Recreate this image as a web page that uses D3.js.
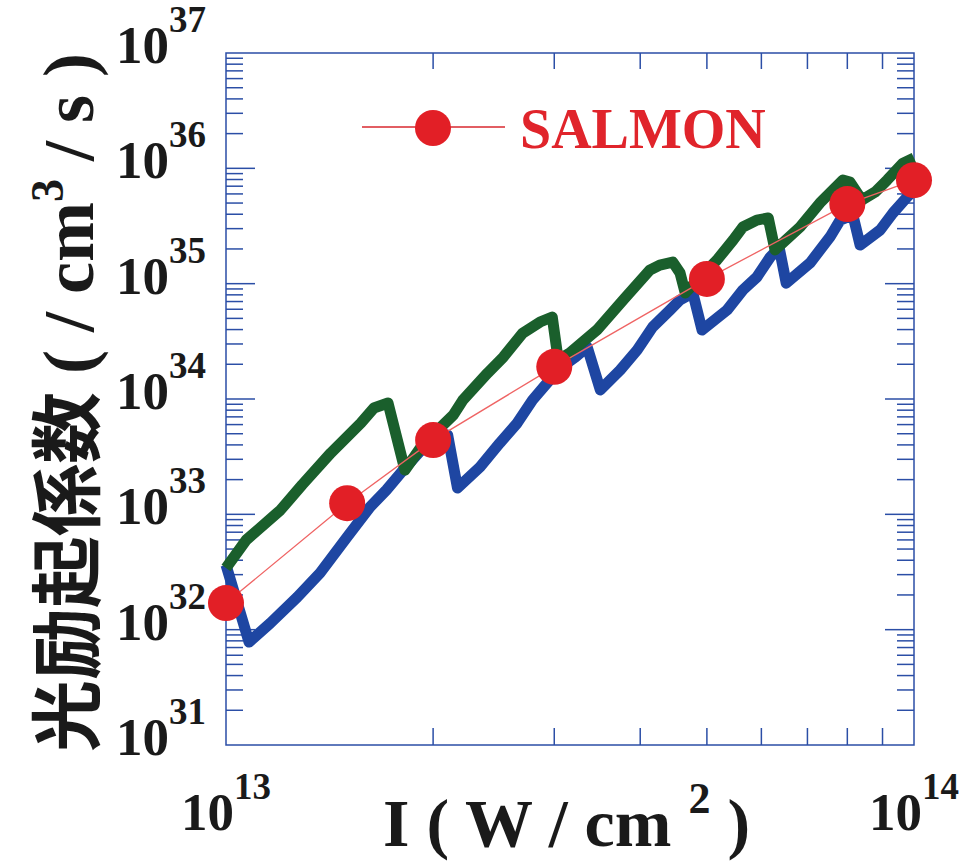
<!DOCTYPE html>
<html><head><meta charset="utf-8">
<script src="https://cdn.jsdelivr.net/npm/d3@7"></script>
<style>body{margin:0;background:#fff}text{white-space:pre}</style>
</head><body><svg id="c" width="980" height="862"></svg>
<script>
// ---- data ----
const greenX = [1.00e13,1.07e13,1.20e13,1.29e13,1.42e13,1.57e13,1.64e13,1.72e13,1.82e13,1.93e13,2.14e13,2.21e13,2.40e13,2.53e13,2.70e13,2.86e13,2.98e13,3.04e13,3.16e13,3.46e13,3.78e13,4.13e13,4.27e13,4.46e13,4.57e13,4.65e13,4.89e13,5.17e13,5.46e13,5.64e13,5.91e13,6.14e13,6.28e13,6.83e13,7.30e13,7.88e13,8.07e13,8.40e13,8.78e13,9.14e13,9.64e13,1.00e14];
const greenY = [3.42e32,5.99e32,1.09e33,1.80e33,3.40e33,6.19e33,8.35e33,9.23e33,2.42e33,3.99e33,7.26e33,9.80e33,1.68e34,2.31e34,3.73e34,4.65e34,5.14e34,2.18e34,2.51e34,3.96e34,7.22e34,1.31e35,1.45e35,1.54e35,1.24e35,8.30e34,1.14e35,1.60e35,2.39e35,3.10e35,3.56e35,3.71e35,1.96e35,3.10e35,5.01e35,7.92e35,7.61e35,5.31e35,6.23e35,7.92e35,1.11e36,1.23e36];
const blueX = [1.00e13,1.08e13,1.16e13,1.27e13,1.37e13,1.50e13,1.62e13,1.71e13,1.81e13,1.91e13,2.01e13,2.10e13,2.17e13,2.34e13,2.50e13,2.65e13,2.79e13,2.93e13,3.06e13,3.22e13,3.35e13,3.50e13,3.74e13,3.96e13,4.17e13,4.42e13,4.57e13,4.77e13,4.92e13,5.35e13,5.64e13,5.91e13,6.18e13,6.37e13,6.52e13,7.06e13,7.55e13,7.81e13,8.15e13,8.35e13,8.93e13,9.32e13,9.77e13,1.00e14];
const blueY = [3.64e32,7.81e31,1.14e32,1.92e32,3.10e32,6.36e32,1.16e33,1.62e33,2.42e33,3.47e33,4.41e33,4.87e33,1.69e33,2.57e33,4.15e33,6.19e33,9.80e33,1.38e34,1.86e34,2.31e34,2.82e34,1.20e34,1.78e34,2.66e34,4.21e34,5.91e34,7.22e34,8.30e34,3.96e34,5.91e34,8.81e34,1.14e35,1.70e35,2.04e35,1.01e35,1.51e35,2.54e35,3.56e35,3.94e35,2.16e35,2.92e35,4.10e35,5.64e35,6.49e35];
const salmonX = [1e13,1.5e13,2e13,3e13,5e13,8e13,1e14];
const salmonY = [1.7e32,1.25e33,4.4e33,1.9e34,1.1e35,4.9e35,7.9e35];
const xTickLabels = [1e13,1e14];
const yTickLabels = [1e31,1e32,1e33,1e34,1e35,1e36,1e37];
const legendLabel = "SALMON";
const yTitleCJK = "光励起係数";

// ---- layout ----
const svg = d3.select("#c");
const L=226,R=914,T=53,B=745;
const x = d3.scaleLog().domain([1e13,1e14]).range([L,R]);
const y = d3.scaleLog().domain([1e31,1e37]).range([B,T]);
const axisCol="#2b4ea6", serif="'Liberation Serif','Times New Roman',serif";
const isMajor = v => Math.abs(Math.log10(v)-Math.round(Math.log10(v)))<1e-9;

const ax = svg.append("g").attr("stroke",axisCol).attr("stroke-width",1.5);
ax.append("rect").attr("x",L).attr("y",T).attr("width",R-L).attr("height",B-T).attr("fill","none");
const yt = y.ticks().filter(v=>v>1e31 && v<1e37);
yt.forEach(v=>{
  const len = isMajor(v)?29:17;
  ax.append("line").attr("x1",L).attr("x2",L+len).attr("y1",y(v)).attr("y2",y(v));
  ax.append("line").attr("x1",R).attr("x2",R-len).attr("y1",y(v)).attr("y2",y(v));
});
const xt = x.ticks().filter(v=>v>1e13 && v<1e14);
xt.forEach(v=>{
  ax.append("line").attr("x1",x(v)).attr("x2",x(v)).attr("y1",B).attr("y2",B-17);
  ax.append("line").attr("x1",x(v)).attr("x2",x(v)).attr("y1",T).attr("y2",T+16);
});

// tick labels
function powLabel(g, v, px, py, anchor){
  const t = g.append("text").attr("x",px).attr("y",py).attr("text-anchor",anchor)
    .attr("font-family",serif).attr("font-weight","bold").attr("font-size",53).attr("fill","#1a1a1a");
  t.append("tspan").text("10");
  t.append("tspan").attr("dy",-31).attr("font-size",37).text(String(Math.round(Math.log10(v))));
}
yTickLabels.forEach(v=>powLabel(svg,v,206,y(v)+10,"end"));
xTickLabels.forEach(v=>powLabel(svg,v,x(v),830,"middle"));

// series
const line = d3.line().x(d=>x(d[0])).y(d=>y(d[1]));
svg.append("path").datum(d3.zip(blueX,blueY)).attr("d",line)
  .attr("fill","none").attr("stroke","#1e46a2").attr("stroke-width",11).attr("stroke-linejoin","round");
svg.append("path").datum(d3.zip(greenX,greenY)).attr("d",line)
  .attr("fill","none").attr("stroke","#1a5f2c").attr("stroke-width",11).attr("stroke-linejoin","round");
svg.append("path").datum(d3.zip(salmonX,salmonY)).attr("d",line)
  .attr("fill","none").attr("stroke","#ef6464").attr("stroke-width",1.3);
svg.append("g").selectAll("circle").data(d3.zip(salmonX,salmonY)).join("circle")
  .attr("cx",d=>x(d[0])).attr("cy",d=>y(d[1])).attr("r",18).attr("fill","#e21f26");

// legend
svg.append("line").attr("x1",362).attr("x2",505).attr("y1",127).attr("y2",127).attr("stroke","#d9282f").attr("stroke-width",1.5);
svg.append("circle").attr("cx",433).attr("cy",128).attr("r",18).attr("fill","#e21f26");
svg.append("text").attr("x",520).attr("y",148).attr("font-family",serif).attr("font-weight","bold")
  .attr("font-size",56).attr("fill","#e0242b").text(legendLabel);

// x title
const xtT = svg.append("text").attr("x",383).attr("y",846).attr("font-family",serif).attr("font-weight","bold")
  .attr("font-size",68).attr("fill","#1a1a1a");
xtT.append("tspan").text("I ( W / cm ");
xtT.append("tspan").attr("dy",-33).attr("font-size",44).text("2");
xtT.append("tspan").attr("dy",33).text(" )");

// y title
const ytT = svg.append("text").attr("transform","translate(93,752) rotate(-90)")
  .attr("font-size",72).attr("fill","#1a1a1a").attr("font-weight","bold");
ytT.append("tspan").attr("font-family","'Noto Sans CJK JP','Noto Sans CJK SC',sans-serif").text(yTitleCJK);
ytT.append("tspan").attr("font-family",serif).text(" ( / cm");
ytT.append("tspan").attr("font-family",serif).attr("dy",-30).attr("font-size",46).text("3");
ytT.append("tspan").attr("font-family",serif).attr("dy",30).text(" / s )");
</script>
</body></html>
